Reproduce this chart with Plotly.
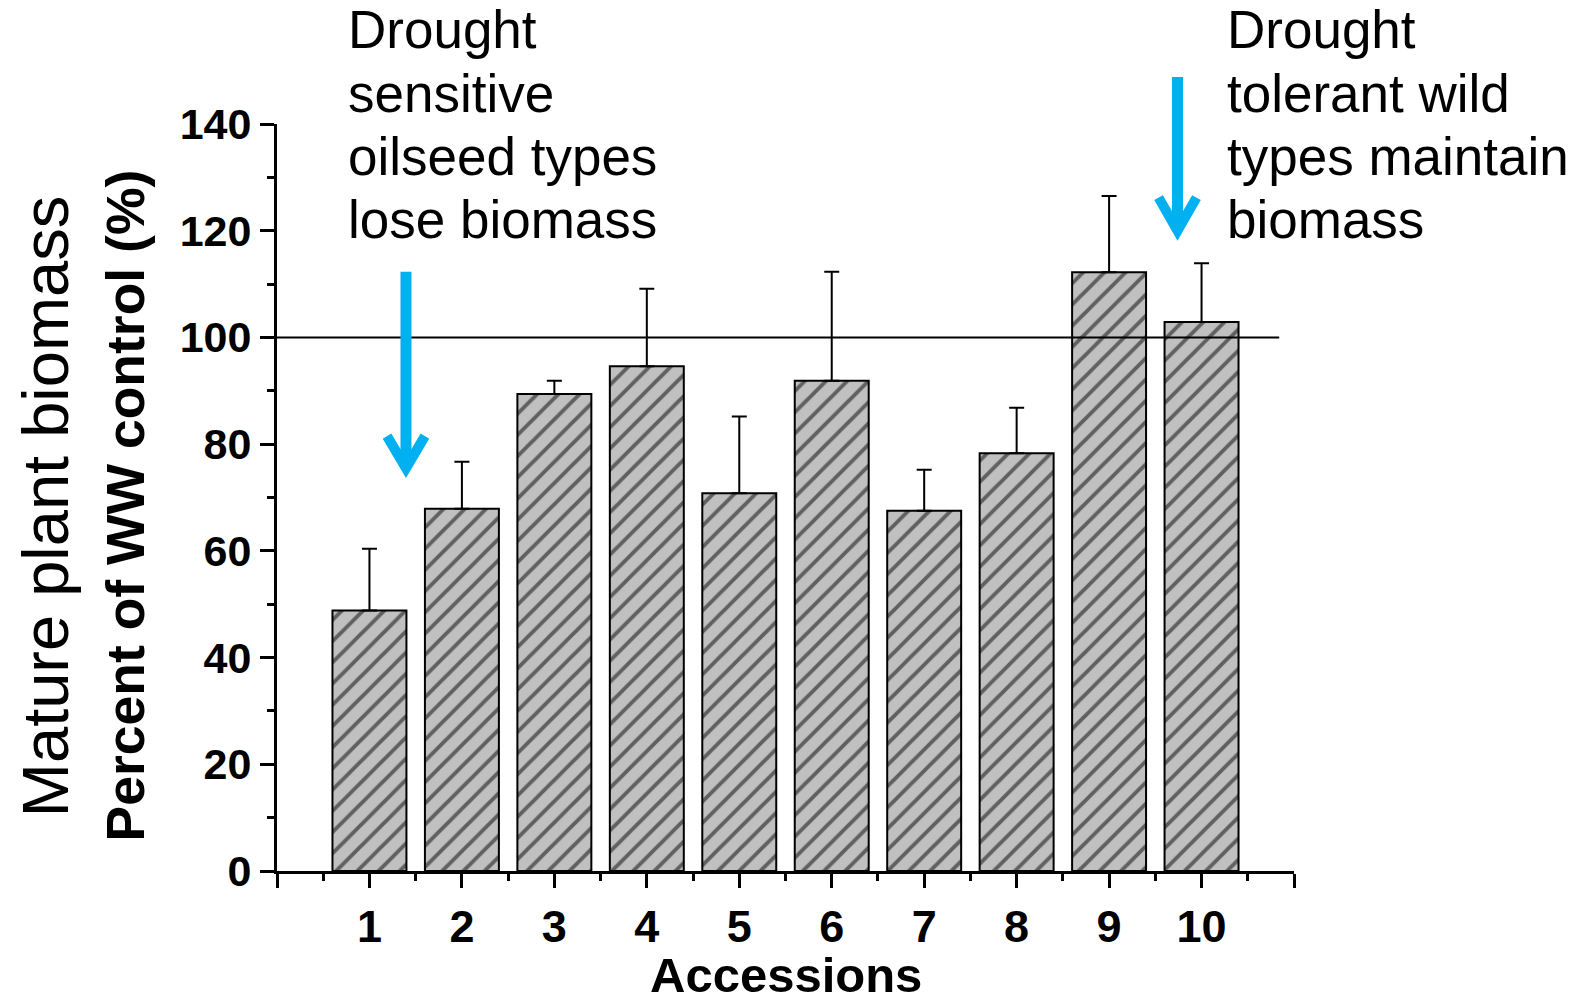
import plotly.graph_objects as go

# ---- data ----
accessions = [1, 2, 3, 4, 5, 6, 7, 8, 9, 10]
biomass_pct = [48.8, 67.9, 89.4, 94.6, 70.8, 91.9, 67.5, 78.3, 112.2, 102.9]
error_top = [60.4, 76.7, 91.9, 109.1, 85.2, 112.3, 75.2, 86.8, 126.5, 113.9]
x_tick_vals = [0, 1, 2, 3, 4, 5, 6, 7, 8, 9, 10, 11]
x_tick_text = ["", "1", "2", "3", "4", "5", "6", "7", "8", "9", "10", ""]
y_tick_vals = [0, 20, 40, 60, 80, 100, 120, 140]
reference_level = 100

left_note = ["Drought", "sensitive", "oilseed types", "lose biomass"]
right_note = ["Drought", "tolerant wild", "types maintain", "biomass"]

X_RANGE = [0, 11]
Y_RANGE = [0, 140]

FONT = "Liberation Sans, Arial, sans-serif"
CYAN = "#00B0F0"

W, H = 1585, 1003
ML, MR, MT, MB = 277, 291, 124, 132
PW, PH = W - ML - MR, H - MT - MB


def px_x(px):
    return (px - ML) / PW


def px_y(py):
    return (H - MB - py) / PH


def dx(v):
    return (v - X_RANGE[0]) / (X_RANGE[1] - X_RANGE[0])


def dy(v):
    return (v - Y_RANGE[0]) / (Y_RANGE[1] - Y_RANGE[0])


err_plus = [t - v for t, v in zip(error_top, biomass_pct)]

fig = go.Figure()
fig.add_trace(go.Bar(
    x=accessions, y=biomass_pct, width=0.8,
    marker=dict(color="#c0c0c0", line=dict(color="black", width=2),
                pattern=dict(shape="/", fgcolor="black", size=15, solidity=0.26)),
    error_y=dict(type="data", symmetric=False, array=err_plus,
                 arrayminus=[0] * len(err_plus), color="black", thickness=2, width=7.5),
    showlegend=False,
))

shapes = []
# reference line at 100 %
shapes.append(dict(type="line", xref="x", yref="y", x0=0, x1=10.84,
                   y0=reference_level, y1=reference_level,
                   line=dict(color="black", width=2), layer="above"))

# arrows (in data units: x position, shaft top, tip vertex, arm top, arm half-width)
arrows = [
    (1.395, 112.3, 75.5, 81.5, 0.205),
    (9.74, 148.8, 120.0, 126.2, 0.205),
]
for ax, top, tip, arm_y, hw in arrows:
    shapes.append(dict(type="line", xref="paper", yref="paper",
                       x0=dx(ax), x1=dx(ax), y0=dy(top), y1=dy(tip) + 0.004,
                       line=dict(color=CYAN, width=11), layer="above"))
    shapes.append(dict(type="path", xref="paper", yref="paper",
                       path=f"M{dx(ax - hw)},{dy(arm_y)} L{dx(ax)},{dy(tip)} L{dx(ax + hw)},{dy(arm_y)}",
                       line=dict(color=CYAN, width=10), layer="above"))

annotations = []
note_fs = 53
baselines = [48.3, 111.7, 175.0, 238.3]
for lines, left_px in ((left_note, 346), (right_note, 1225)):
    for line, bl in zip(lines, baselines):
        annotations.append(dict(
            text=line, xref="paper", yref="paper", x=px_x(left_px), y=px_y(bl - 0.347 * note_fs),
            xanchor="left", yanchor="middle", showarrow=False,
            font=dict(family=FONT, size=note_fs, color="black")))

# axis titles
annotations.append(dict(text="Mature plant biomass", xref="paper", yref="paper",
                        x=px_x(68.7 - 0.347 * 65), y=px_y(507), textangle=-90,
                        xanchor="center", yanchor="middle", showarrow=False,
                        font=dict(family=FONT, size=65, color="black")))
annotations.append(dict(text="<b>Percent of WW control (%)</b>", xref="paper", yref="paper",
                        x=px_x(144.5 - 0.347 * 53.5), y=px_y(505.5), textangle=-90,
                        xanchor="center", yanchor="middle", showarrow=False,
                        font=dict(family=FONT, size=53.5, color="black")))
annotations.append(dict(text="<b>Accessions</b>", xref="paper", yref="paper",
                        x=px_x(786), y=px_y(992 - 0.347 * 49),
                        xanchor="center", yanchor="middle", showarrow=False,
                        font=dict(family=FONT, size=49, color="black")))

fig.update_layout(
    width=W, height=H,
    margin=dict(l=ML, r=MR, t=MT, b=MB, pad=0),
    paper_bgcolor="white", plot_bgcolor="white",
    shapes=shapes, annotations=annotations,
    font=dict(family=FONT, color="black"),
    xaxis=dict(range=X_RANGE, tickmode="array", tickvals=x_tick_vals, ticktext=x_tick_text,
               ticks="outside", ticklen=14, tickwidth=3, tickcolor="black",
               showline=True, linecolor="black", linewidth=3, showgrid=False, zeroline=False,
               tickfont=dict(family=FONT, size=45, color="black", weight="bold"),
               minor=dict(tickmode="linear", tick0=0.5, dtick=1, ticks="outside",
                          ticklen=7, tickwidth=3, tickcolor="black", showgrid=False)),
    yaxis=dict(range=Y_RANGE, tickmode="array", tickvals=y_tick_vals,
               ticks="outside", ticklen=14, tickwidth=3, tickcolor="black",
               showline=True, linecolor="black", linewidth=3, showgrid=False, zeroline=False,
               tickfont=dict(family=FONT, size=43, color="black", weight="bold"),
               minor=dict(tickmode="linear", tick0=10, dtick=20, ticks="outside",
                          ticklen=7, tickwidth=3, tickcolor="black", showgrid=False)),
)

fig.write_html("out.html")
